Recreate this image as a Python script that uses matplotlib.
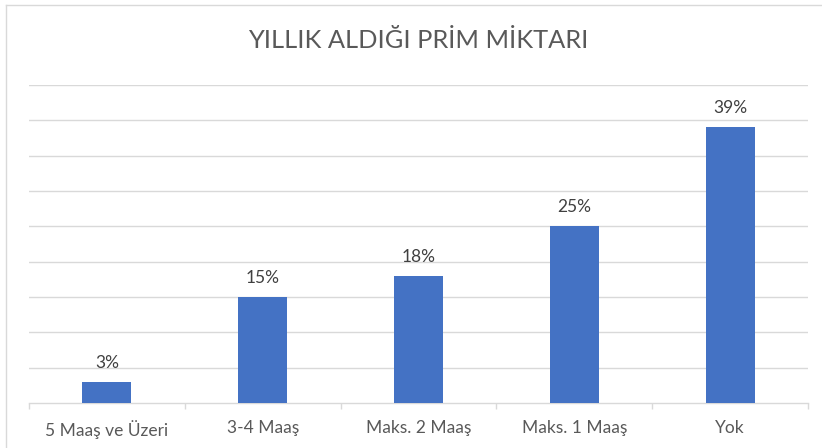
import numpy as np
import matplotlib.pyplot as plt
from matplotlib.lines import Line2D

categories = ['5 Maaş ve Üzeri', '3-4 Maaş', 'Maks. 2 Maaş', 'Maks. 1 Maaş', 'Yok']
values = [3, 15, 18, 25, 39]
labels = ['3%', '15%', '18%', '25%', '39%']
title = 'YILLIK ALDIĞI PRİM MİKTARI'

plt.rcParams['font.family'] = ['Lato', 'DejaVu Sans']

fig = plt.figure(figsize=(8.22, 4.48), dpi=100)
ax = fig.add_axes([0.0353, 0.1004, 0.9477, 0.7099])

x = np.arange(len(categories))
ax.bar(x, values, width=0.315, color='#4472C4', zorder=3)

for xi, v, lab in zip(x, values, labels):
    ax.annotate(lab, (xi, v), xytext=(0, 8), textcoords='offset points',
                ha='center', va='bottom', fontsize=12.5, color='#404040')

ax.set_xlim(-0.5, len(categories) - 0.5)
ax.set_ylim(0, 45)
ax.set_yticks(np.arange(5, 50, 5))
ax.yaxis.grid(True, color='#D9D9D9', linewidth=1.0)
ax.tick_params(axis='y', length=0, labelleft=False)

ax.set_xticks(x)
ax.set_xticklabels(categories, fontsize=12.5, color='#595959')
ax.set_xticks(np.arange(-0.5, len(categories)), minor=True)
ax.tick_params(axis='x', which='major', length=0, pad=12)
ax.tick_params(axis='x', which='minor', length=4, color='#D9D9D9', width=1.0)

for s in ['top', 'right', 'left']:
    ax.spines[s].set_visible(False)
ax.spines['bottom'].set_color('#D9D9D9')
ax.spines['bottom'].set_linewidth(1.0)

fig.text(0.509, 0.91, title, ha='center', va='center', fontsize=18.3, color='#595959')

# chart border (left and top edges visible)
fig.add_artist(Line2D([0.0067, 0.0067], [0, 0.989], transform=fig.transFigure,
                      color='#D9D9D9', linewidth=1.0))
fig.add_artist(Line2D([0.0067, 1], [0.989, 0.989], transform=fig.transFigure,
                      color='#D9D9D9', linewidth=1.0))

fig.savefig('out.png', dpi=100)
